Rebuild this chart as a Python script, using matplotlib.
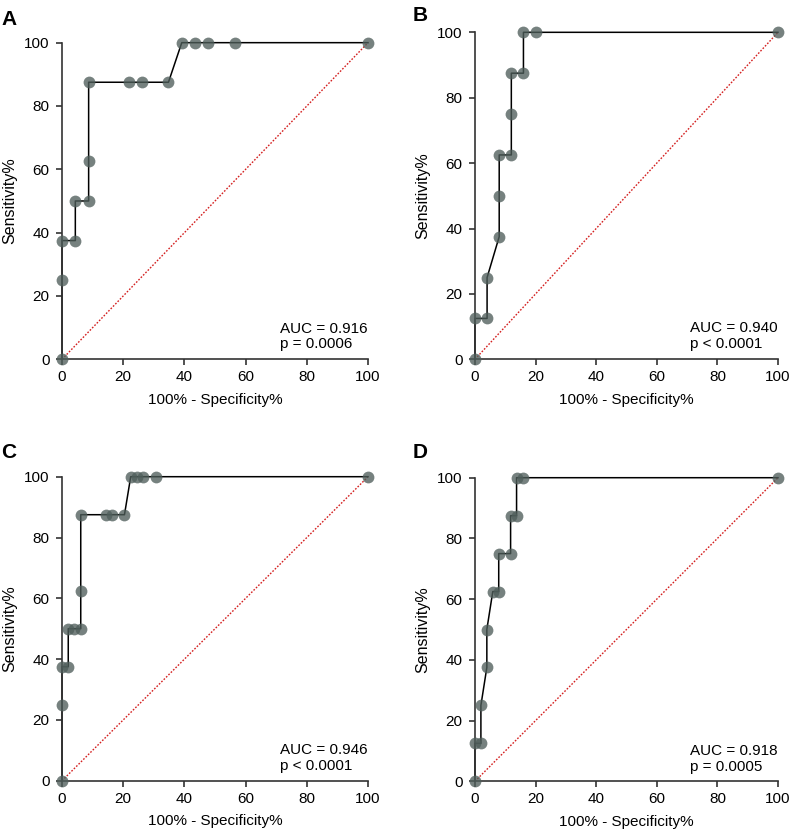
import matplotlib.pyplot as plt

plt.rcParams['font.family'] = ['Liberation Sans', 'DejaVu Sans']

# 100% - specificity (x) and sensitivity (y) for each panel
a_x = [0, 0, 0, 4.35, 4.35, 8.7, 8.7, 8.7, 21.74, 26.09, 34.78, 39.13, 43.48, 47.83, 56.52, 100]
a_y = [0, 25, 37.5, 37.5, 50, 50, 62.5, 87.5, 87.5, 87.5, 87.5, 100, 100, 100, 100, 100]

b_x = [0, 0, 4, 4, 8, 8, 8, 12, 12, 12, 16, 16, 20, 100]
b_y = [0, 12.5, 12.5, 25, 37.5, 50, 62.5, 62.5, 75, 87.5, 87.5, 100, 100, 100]

c_x = [0, 0, 0, 2.04, 2.04, 4.08, 6.12, 6.12, 6.12, 14.29, 16.33, 20.41, 22.45, 24.49, 26.53, 30.61, 100]
c_y = [0, 25, 37.5, 37.5, 50, 50, 50, 62.5, 87.5, 87.5, 87.5, 87.5, 100, 100, 100, 100, 100]

d_x = [0, 0, 1.96, 1.96, 3.92, 3.92, 5.88, 7.84, 7.84, 11.76, 11.76, 13.73, 13.73, 15.69, 100]
d_y = [0, 12.5, 12.5, 25, 37.5, 50, 62.5, 62.5, 75, 75, 87.5, 87.5, 100, 100, 100]

letters = ['A', 'B', 'C', 'D']
stats = ['AUC = 0.916\np = 0.0006', 'AUC = 0.940\np < 0.0001',
         'AUC = 0.946\np < 0.0001', 'AUC = 0.918\np = 0.0005']
curves = [(a_x, a_y), (b_x, b_y), (c_x, c_y), (d_x, d_y)]

# axes boxes in figure fraction (left, bottom, width, height)
boxes = [[0.0783, 0.5697, 0.3864, 0.3792],
         [0.5997, 0.5697, 0.3826, 0.3916],
         [0.0783, 0.0650, 0.3864, 0.3641],
         [0.5997, 0.0643, 0.3826, 0.3636]]
letter_pos = [(0.002, 0.988), (0.521, 0.993), (0.002, 0.470), (0.521, 0.470)]

fig = plt.figure(figsize=(7.92, 8.35), dpi=100)

for i in range(4):
    ax = fig.add_axes(boxes[i])
    x, y = curves[i]
    ax.plot([0, 100], [0, 100], color='#d42020', linestyle=(0, (1.2, 1.2)), lw=1.0, zorder=1)
    ax.plot(x, y, color='black', lw=1.1, zorder=2, clip_on=False)
    ax.plot(x, y, linestyle='none', marker='o', markersize=8.5, markerfacecolor='#4f5e5b',
            markeredgecolor='none', alpha=0.78, zorder=3, clip_on=False)
    ax.set_xlim(0, 100)
    ax.set_ylim(0, 100)
    ax.set_xticks([0, 20, 40, 60, 80, 100])
    ax.set_yticks([0, 20, 40, 60, 80, 100])
    for s in ['top', 'right']:
        ax.spines[s].set_visible(False)
    for s in ['left', 'bottom']:
        ax.spines[s].set_color('#333333')
        ax.spines[s].set_linewidth(1.2)
    ax.tick_params(colors='#333333', labelcolor='black', length=4, width=1.2, labelsize=11)
    ax.tick_params(axis='x', pad=4)
    ax.tick_params(axis='y', pad=5)
    ax.set_xlabel('100% - Specificity%', fontsize=11, labelpad=6)
    ax.set_ylabel('Sensitivity%', fontsize=11.5, labelpad=5)
    ax.text(100, 2.5, stats[i], ha='right', va='bottom', multialignment='left',
            fontsize=11, linespacing=1.15)
    fig.text(letter_pos[i][0], letter_pos[i][1], letters[i], fontsize=15, fontweight='bold',
             va='top', ha='left')

fig.savefig('out.png', dpi=100)
